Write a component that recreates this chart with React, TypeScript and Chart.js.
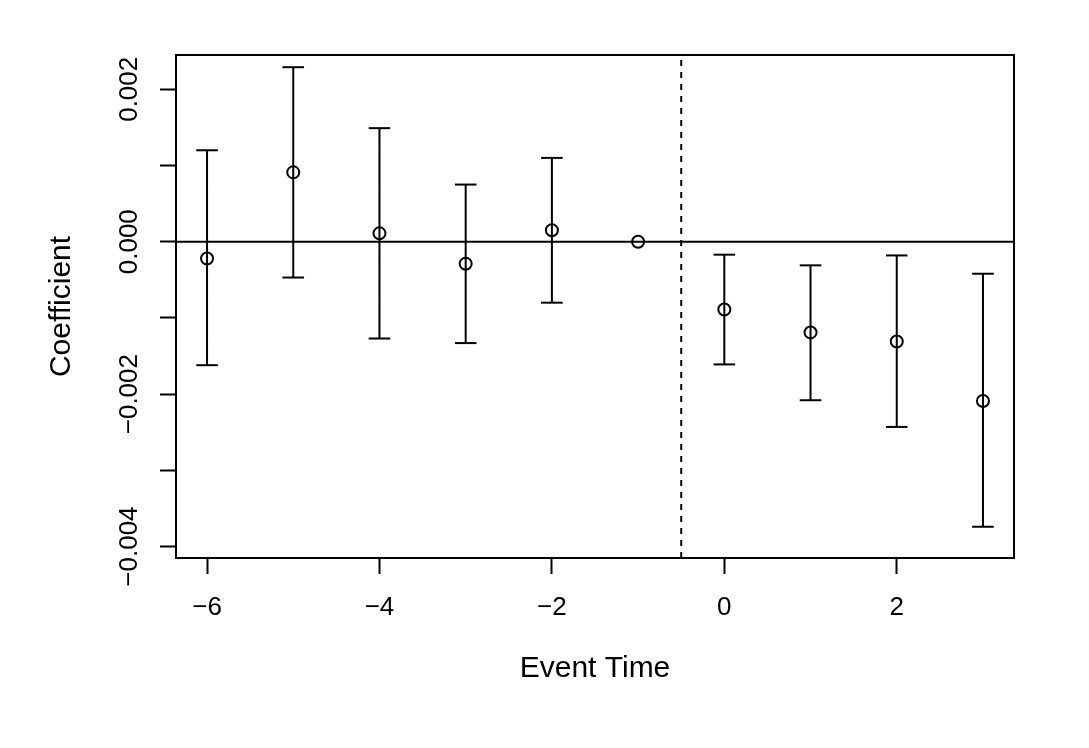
import { useEffect, useRef } from "react";
import { Chart, registerables } from "chart.js";

Chart.register(...registerables);

const FONT = '"Liberation Sans", Arial, Helvetica, sans-serif';

// event-study estimates
const eventTime = [-6, -5, -4, -3, -2, -1, 0, 1, 2, 3];
const coef = [-0.00022, 0.00091, 0.00011, -0.00029, 0.00015, 0, -0.00089, -0.00119, -0.00131, -0.00209];
const ciLow = [-0.00162, -0.00047, -0.00127, -0.00133, -0.0008, null, -0.00161, -0.00208, -0.00243, -0.00374];
const ciHigh = [0.0012, 0.00229, 0.00149, 0.00075, 0.0011, null, -0.00017, -0.00031, -0.00018, -0.00042];

const xTickValues = [-6, -4, -2, 0, 2];
const yTickValues = [-0.004, -0.003, -0.002, -0.001, 0, 0.001, 0.002];
const yLabelValues = [-0.004, -0.002, 0, 0.002];
const treatmentLine = -0.5;

const X_MIN = -6.36;
const X_MAX = 3.36;
const Y_MIN = -0.00415;
const Y_MAX = 0.00245;

const withMinus = (s: string) => s.replace("-", "\u2212");

// box around the plot region, plus rotated y tick labels (R style)
const frame = {
  id: "frame",
  afterDraw(chart: Chart) {
    const { ctx, chartArea } = chart;
    ctx.save();
    ctx.strokeStyle = "#000";
    ctx.lineWidth = 2;
    ctx.strokeRect(chartArea.left, chartArea.top, chartArea.right - chartArea.left, chartArea.bottom - chartArea.top);

    const y = chart.scales.y;
    ctx.fillStyle = "#000";
    ctx.font = `26px ${FONT}`;
    ctx.textAlign = "center";
    ctx.textBaseline = "middle";
    y.ticks.forEach((t: any) => {
      if (!t.label) return;
      const py = y.getPixelForValue(t.value);
      ctx.save();
      ctx.translate(130, py);
      ctx.rotate(-Math.PI / 2);
      ctx.fillText(t.label, 0, 0);
      ctx.restore();
    });
    ctx.restore();
  },
};

export default function App() {
  const chartRef = useRef<HTMLCanvasElement>(null);
  const chartInstance = useRef<Chart | null>(null);

  useEffect(() => {
    if (!chartRef.current) return;
    if (chartInstance.current) chartInstance.current.destroy();

    const errorBars = eventTime.flatMap((x, i) =>
      ciLow[i] == null ? [] : [{ x, y: ciLow[i] }, { x, y: ciHigh[i] }, { x, y: null }]
    );
    const points = eventTime.map((x, i) => ({ x, y: coef[i] }));

    chartInstance.current = new Chart(chartRef.current, {
      type: "scatter",
      data: {
        datasets: [
          {
            data: [{ x: X_MIN, y: 0 }, { x: X_MAX, y: 0 }],
            showLine: true,
            borderColor: "#000",
            borderWidth: 2,
            pointRadius: 0,
          },
          {
            data: [{ x: treatmentLine, y: Y_MIN }, { x: treatmentLine, y: Y_MAX }],
            showLine: true,
            borderColor: "#000",
            borderWidth: 2,
            borderDash: [6, 6],
            pointRadius: 0,
          },
          {
            data: errorBars as any,
            showLine: true,
            spanGaps: false,
            borderColor: "#000",
            borderWidth: 2,
            pointStyle: "line",
            pointRadius: 10.8,
            pointBorderWidth: 2,
            pointBorderColor: "#000",
          },
          {
            data: points,
            pointStyle: "circle",
            pointRadius: 6,
            pointBorderWidth: 2,
            pointBorderColor: "#000",
            pointBackgroundColor: "rgba(0,0,0,0)",
          },
        ],
      },
      options: {
        animation: false,
        responsive: true,
        maintainAspectRatio: false,
        layout: { padding: { left: 0, top: 55, right: 75, bottom: 0 } },
        plugins: { legend: { display: false }, tooltip: { enabled: false } },
        scales: {
          x: {
            type: "linear",
            min: X_MIN,
            max: X_MAX,
            afterBuildTicks: (s: any) => {
              s.ticks = xTickValues.map((value) => ({ value }));
            },
            afterFit: (s: any) => {
              s.height = 190;
            },
            border: { display: false },
            grid: { drawOnChartArea: false, tickLength: 16, tickColor: "#000", tickWidth: 2 },
            ticks: {
              color: "#000",
              padding: 18,
              font: { family: FONT, size: 26 },
              callback: (v: any) => withMinus(String(v)),
            },
            title: {
              display: true,
              text: "Event Time",
              color: "#000",
              font: { family: FONT, size: 30 },
              padding: { top: 0, bottom: 61 },
            },
          },
          y: {
            type: "linear",
            min: Y_MIN,
            max: Y_MAX,
            afterBuildTicks: (s: any) => {
              s.ticks = yTickValues.map((value) => ({ value }));
            },
            afterFit: (s: any) => {
              s.width = 176;
            },
            border: { display: false },
            grid: { drawOnChartArea: false, tickLength: 16, tickColor: "#000", tickWidth: 2 },
            ticks: {
              display: false,
              callback: (v: any) =>
                yLabelValues.some((l) => Math.abs(l - v) < 1e-9) ? withMinus(Math.abs(v) < 1e-12 ? "0.000" : v.toFixed(3)) : "",
            },
            title: {
              display: true,
              text: "Coefficient",
              color: "#000",
              font: { family: FONT, size: 30 },
              padding: { top: 44, bottom: 0 },
            },
          },
        },
      },
      plugins: [frame],
    });

    return () => {
      if (chartInstance.current) {
        chartInstance.current.destroy();
        chartInstance.current = null;
      }
    };
  }, []);

  return (
    <div style={{ position: "fixed", left: 0, top: 0, width: 1089, height: 748, background: "#fff" }}>
      <canvas ref={chartRef} />
    </div>
  );
}
